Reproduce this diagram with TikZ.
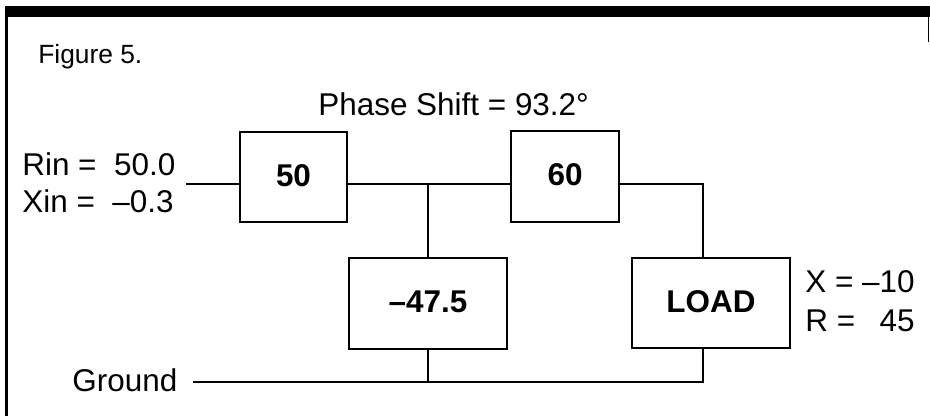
\documentclass[tikz,border=0pt]{standalone}
\usepackage{fontspec}
\setmainfont{Liberation Sans}
\begin{document}
\begin{tikzpicture}[x=0.02cm,y=-0.02cm,
  wire/.style={line width=1.5pt},
  lbl/.style={font=\fontsize{17.9}{21}\selectfont, inner sep=0pt},
  elem/.style={draw, line width=1.5pt, inner sep=0pt,
    font=\fontsize{17.9}{21}\selectfont\bfseries, text depth=0.19em},
]
\useasboundingbox (0,0) rectangle (930,416);

% frame: heavy top rule, left rule, short right tick
\fill (5,6) rectangle (930,16.5);
\draw[line width=1.7pt] (6.7,16) -- (6.7,416);
\draw[line width=1.1pt] (928.5,16) -- (928.5,42);

% captions
\node[lbl, font=\fontsize{15}{18}\selectfont, anchor=base west] (fig) at (38,63) {Figure 5.};
\node[lbl, anchor=base west] (phase) at (318,115) {Phase Shift = 93.2°};
\node[lbl, anchor=base west] (rin) at (22,175) {Rin =~~50.0};
\node[lbl, anchor=base west] (xin) at (22,212) {Xin =~~–0.3};
\node[lbl, anchor=base west] (gnd) at (72,391) {Ground};
\node[lbl, anchor=base west] (xl) at (805,292) {X = –10};
\node[lbl, anchor=base west] (rl) at (805,331) {R =};
\node[lbl, anchor=base east] (rv) at (915,331) {45};

% network elements
\node[elem, minimum width=2.14cm, minimum height=1.8cm] (b50) at (293.5,177) {50};
\node[elem, minimum width=2.16cm, minimum height=1.82cm] (b60) at (565,176.5) {60};
\node[elem, minimum width=3.16cm, minimum height=1.82cm] (bsh) at (428,303.5) {–47.5};
\node[elem, minimum width=3.16cm, minimum height=1.8cm] (bload) at (711,303) {LOAD};

% wiring points
\coordinate (in) at (186,184);
\coordinate (j1) at (428,184);
\coordinate (j2) at (703,184);
\coordinate (g0) at (193,382);
\coordinate (g1) at (428,382);
\coordinate (g2) at (703,382);

% connections
\draw[wire] (in) -- (in -| b50.west);
\draw[wire] (in -| b50.east) -- (in -| b60.west);
\draw[wire] (in -| b60.east) -- (j2) -- (j2 |- bload.north);
\draw[wire] (j1) -- (bsh.north);
\draw[wire] (bsh.south) -- (g1);
\draw[wire] (g0) -- (g2) -- (g2 |- bload.south);
\end{tikzpicture}
\end{document}
